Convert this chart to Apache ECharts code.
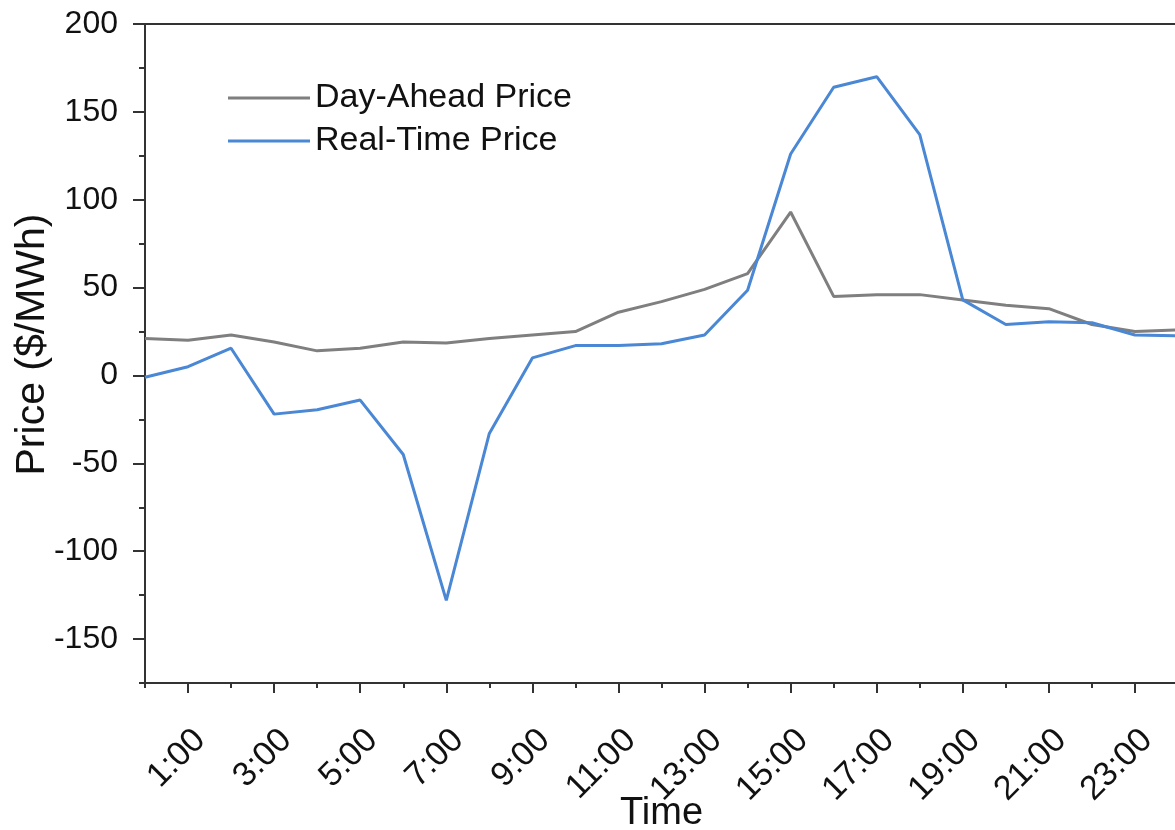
<!DOCTYPE html>
<html>
<head>
<meta charset="utf-8">
<script src="https://cdn.jsdelivr.net/npm/echarts@6/dist/echarts.min.js"></script>
<style>
  html, body { margin: 0; padding: 0; background: #fff; }
  #chart { width: 1175px; height: 830px; }
</style>
</head>
<body>
<div id="chart"></div>
<script>
// hourly prices, 0:00 .. 24:00
const hours = ['0:00', '1:00', '2:00', '3:00', '4:00', '5:00', '6:00', '7:00', '8:00',
  '9:00', '10:00', '11:00', '12:00', '13:00', '14:00', '15:00', '16:00', '17:00',
  '18:00', '19:00', '20:00', '21:00', '22:00', '23:00', '24:00']
const dayAhead = [21, 20, 23, 19, 14, 15.5, 19, 18.5, 21, 23, 25, 36, 42, 49, 58, 93,
  45, 46, 46, 43, 40, 38, 29, 25, 26]
const realTime = [-1, 5, 15.5, -22, -19.5, -14, -45, -128, -33, 10, 17, 17, 18, 23, 48.5,
  126, 164, 170, 137, 43, 29, 30.5, 30, 23, 22.5]
const yMajor = [-150, -100, -50, 0, 50, 100, 150, 200]
const yMinor = [-175, -125, -75, -25, 25, 75, 125, 175]

const font = 'Liberation Sans, Arial, sans-serif'
const axisColor = '#333'
const grayColor = '#7f7f7f'
const blueColor = '#4a87d4'

const chart = echarts.init(document.getElementById('chart'))
const option = {
  backgroundColor: '#fff',
  animation: false,
  grid: {
    left: 145,
    right: -3,
    top: 24,
    bottom: 147,
    containLabel: false,
    outerBoundsMode: 'none',
    show: true,
    borderColor: axisColor,
    borderWidth: 2
  },
  legend: {
    orient: 'vertical',
    left: 223,
    top: 76,
    icon: 'rect',
    itemWidth: 82,
    itemHeight: 3,
    itemGap: 9,
    textStyle: { fontFamily: font, fontSize: 34, color: '#111' },
    data: [
      { name: 'Day-Ahead Price', itemStyle: { color: grayColor } },
      { name: 'Real-Time Price', itemStyle: { color: blueColor } }
    ]
  },
  xAxis: [
    {
      type: 'category',
      position: 'bottom',
      boundaryGap: false,
      data: hours,
      name: 'Time',
      nameLocation: 'middle',
      nameGap: 112,
      nameMoveOverlap: false,
      nameTextStyle: { fontFamily: font, fontSize: 38, color: '#111' },
      axisLine: { onZero: false, lineStyle: { color: axisColor, width: 2 } },
      axisTick: {
        interval: (i) => i % 2 === 1,
        length: 10,
        lineStyle: { color: axisColor, width: 2 }
      },
      axisLabel: {
        interval: (i) => i % 2 === 1,
        rotate: 45,
        verticalAlign: 'top',
        margin: 40,
        fontFamily: font,
        fontSize: 34,
        color: '#111'
      },
      splitLine: { show: false }
    },
    {
      // minor ticks on the even hours
      type: 'category',
      position: 'bottom',
      boundaryGap: false,
      data: hours,
      axisLine: { show: false, onZero: false },
      axisTick: {
        interval: (i) => i % 2 === 0,
        length: 5,
        lineStyle: { color: axisColor, width: 2 }
      },
      axisLabel: { show: false },
      splitLine: { show: false }
    }
  ],
  yAxis: [
    {
      type: 'value',
      position: 'left',
      min: -175,
      max: 200,
      name: 'Price ($/MWh)',
      nameLocation: 'middle',
      nameGap: 92,
      nameMoveOverlap: false,
      nameTextStyle: { fontFamily: font, fontSize: 41, color: '#111', padding: [0, 0, 0, 18] },
      axisLine: { show: true, onZero: false, lineStyle: { color: axisColor, width: 2 } },
      axisTick: {
        show: true,
        customValues: yMajor,
        length: 12,
        lineStyle: { color: axisColor, width: 2 }
      },
      axisLabel: {
        customValues: yMajor,
        margin: 27,
        fontFamily: font,
        fontSize: 32,
        color: '#111'
      },
      splitLine: { show: false }
    },
    {
      type: 'value',
      position: 'left',
      min: -175,
      max: 200,
      axisLine: { show: false, onZero: false },
      axisTick: {
        show: true,
        customValues: yMinor,
        length: 6,
        lineStyle: { color: axisColor, width: 2 }
      },
      axisLabel: { show: false },
      splitLine: { show: false }
    }
  ],
  series: [
    {
      name: 'Day-Ahead Price',
      type: 'line',
      data: dayAhead,
      symbol: 'none',
      lineStyle: { color: grayColor, width: 3 },
      itemStyle: { color: grayColor }
    },
    {
      name: 'Real-Time Price',
      type: 'line',
      data: realTime,
      symbol: 'none',
      lineStyle: { color: blueColor, width: 3 },
      itemStyle: { color: blueColor }
    }
  ]
}
chart.setOption(option)
</script>
</body>
</html>
